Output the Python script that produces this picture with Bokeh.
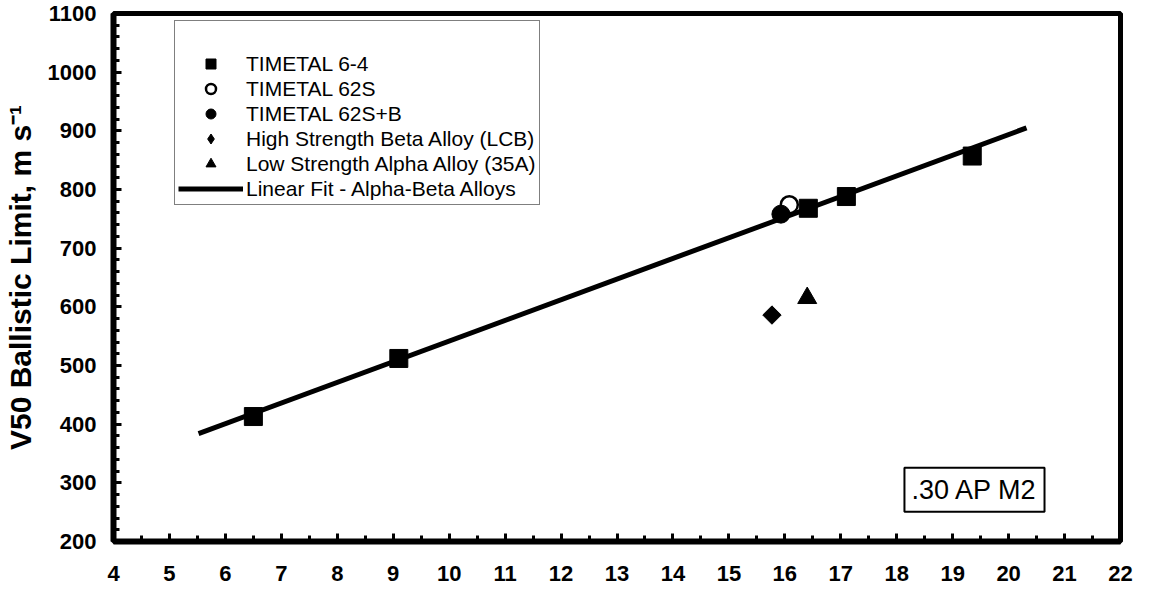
import numpy as np
from bokeh.plotting import figure
from bokeh.models import Range1d, FixedTicker, Legend, LegendItem, Label
from bokeh.embed import file_html
from bokeh.resources import INLINE

# ---- data ----
ti64_x = [6.5, 9.1, 16.42, 17.1, 19.35]
ti64_y = [413, 512, 768, 788, 857]
ti62s_x = [16.08]
ti62s_y = [774]
ti62sb_x = [15.93]
ti62sb_y = [758]
lcb_x = [15.77]
lcb_y = [586]
a35_x = [16.4]
a35_y = [615]
fit_x = [5.52, 20.32]
fit_y = [384, 905]

x_ticks = list(range(4, 23))
x_minor = list(np.arange(4, 22.01, 0.5))
y_ticks = list(range(200, 1101, 100))
y_minor = list(range(200, 1101, 20))

legend_labels = ["TIMETAL 6-4", "TIMETAL 62S", "TIMETAL 62S+B",
                 "High Strength Beta Alloy (LCB)", "Low Strength Alpha Alloy (35A)",
                 "Linear Fit - Alpha-Beta Alloys"]
y_title = "V50 Ballistic Limit, m s\u207b\u00b9"
note_text = ".30 AP M2"

FONT = "Liberation Sans"

p = figure(width=1135, height=589, x_range=Range1d(4, 22), y_range=Range1d(200, 1100),
           output_backend="svg", toolbar_location=None,
           min_border_left=108, min_border_right=15, min_border_top=13, min_border_bottom=48)
p.grid.visible = False
p.background_fill_color = "white"
p.border_fill_color = "white"
p.outline_line_color = "black"
p.outline_line_width = 5

# axes
for ax in (p.xaxis[0], p.yaxis[0]):
    ax.axis_line_width = 6
    ax.axis_line_color = "black"
    ax.major_tick_out = 0
    ax.minor_tick_out = 0
    ax.major_tick_in = 8
    ax.minor_tick_in = 6
    ax.major_tick_line_width = 3
    ax.minor_tick_line_width = 3
    ax.major_tick_line_color = "black"
    ax.minor_tick_line_color = "black"
    ax.major_label_text_font = FONT
    ax.major_label_text_font_style = "bold"
    ax.major_label_text_font_size = "22px"
    ax.major_label_text_color = "black"

p.xaxis.ticker = FixedTicker(ticks=x_ticks, minor_ticks=x_minor)
p.yaxis.ticker = FixedTicker(ticks=y_ticks, minor_ticks=y_minor)
p.xaxis.major_label_standoff = 24
p.yaxis.major_label_standoff = 17
p.yaxis.axis_label = y_title
p.yaxis.axis_label_text_font = FONT
p.yaxis.axis_label_text_font_style = "bold"
p.yaxis.axis_label_text_font_size = "30px"
p.yaxis.axis_label_text_color = "black"
p.yaxis.axis_label_standoff = 8

# glyphs
r_fit = p.line(fit_x, fit_y, line_color="black", line_width=5)
r_64 = p.scatter(ti64_x, ti64_y, marker="square", size=18, fill_color="black", line_color="black")
r_62s = p.scatter(ti62s_x, ti62s_y, marker="circle", size=17, fill_color="white",
                  line_color="black", line_width=2.5)
r_62sb = p.scatter(ti62sb_x, ti62sb_y, marker="circle", size=18, fill_color="black", line_color="black")
# legend stand-in for the diamond (hidden under the rotated square)
r_lcb_key = p.scatter(lcb_x, lcb_y, marker="diamond", size=12, fill_color="black", line_color="black")
r_lcb = p.scatter(lcb_x, lcb_y, marker="square", angle=np.pi / 4, size=13,
                  fill_color="black", line_color="black")
r_35a = p.scatter(a35_x, a35_y, marker="triangle", size=19, fill_color="black", line_color="black")

renderers = [r_64, r_62s, r_62sb, r_lcb_key, r_35a, r_fit]
legend = Legend(items=[LegendItem(label=l, renderers=[r]) for l, r in zip(legend_labels, renderers)],
                location=(61, 336))
legend.title = "\u00a0"
legend.title_text_font_size = "20px"
legend.title_standoff = 4
legend.padding = 3
legend.spacing = 0
legend.margin = 0
legend.glyph_width = 65
legend.glyph_height = 25
legend.label_height = 25
legend.label_standoff = 3
legend.label_text_font = FONT
legend.label_text_font_size = "21px"
legend.label_text_color = "black"
legend.border_line_color = "black"
legend.border_line_width = 1.5
legend.background_fill_color = "white"
legend.background_fill_alpha = 1.0
p.add_layout(legend)

note = Label(x=19.39, y=288, text=note_text, text_align="center", text_baseline="middle",
             text_font=FONT, text_font_size="27px", text_color="black",
             border_line_color="black", border_line_width=2,
             background_fill_color="white", padding=7)
p.add_layout(note)

open("out.html", "w").write(file_html(p, INLINE))
